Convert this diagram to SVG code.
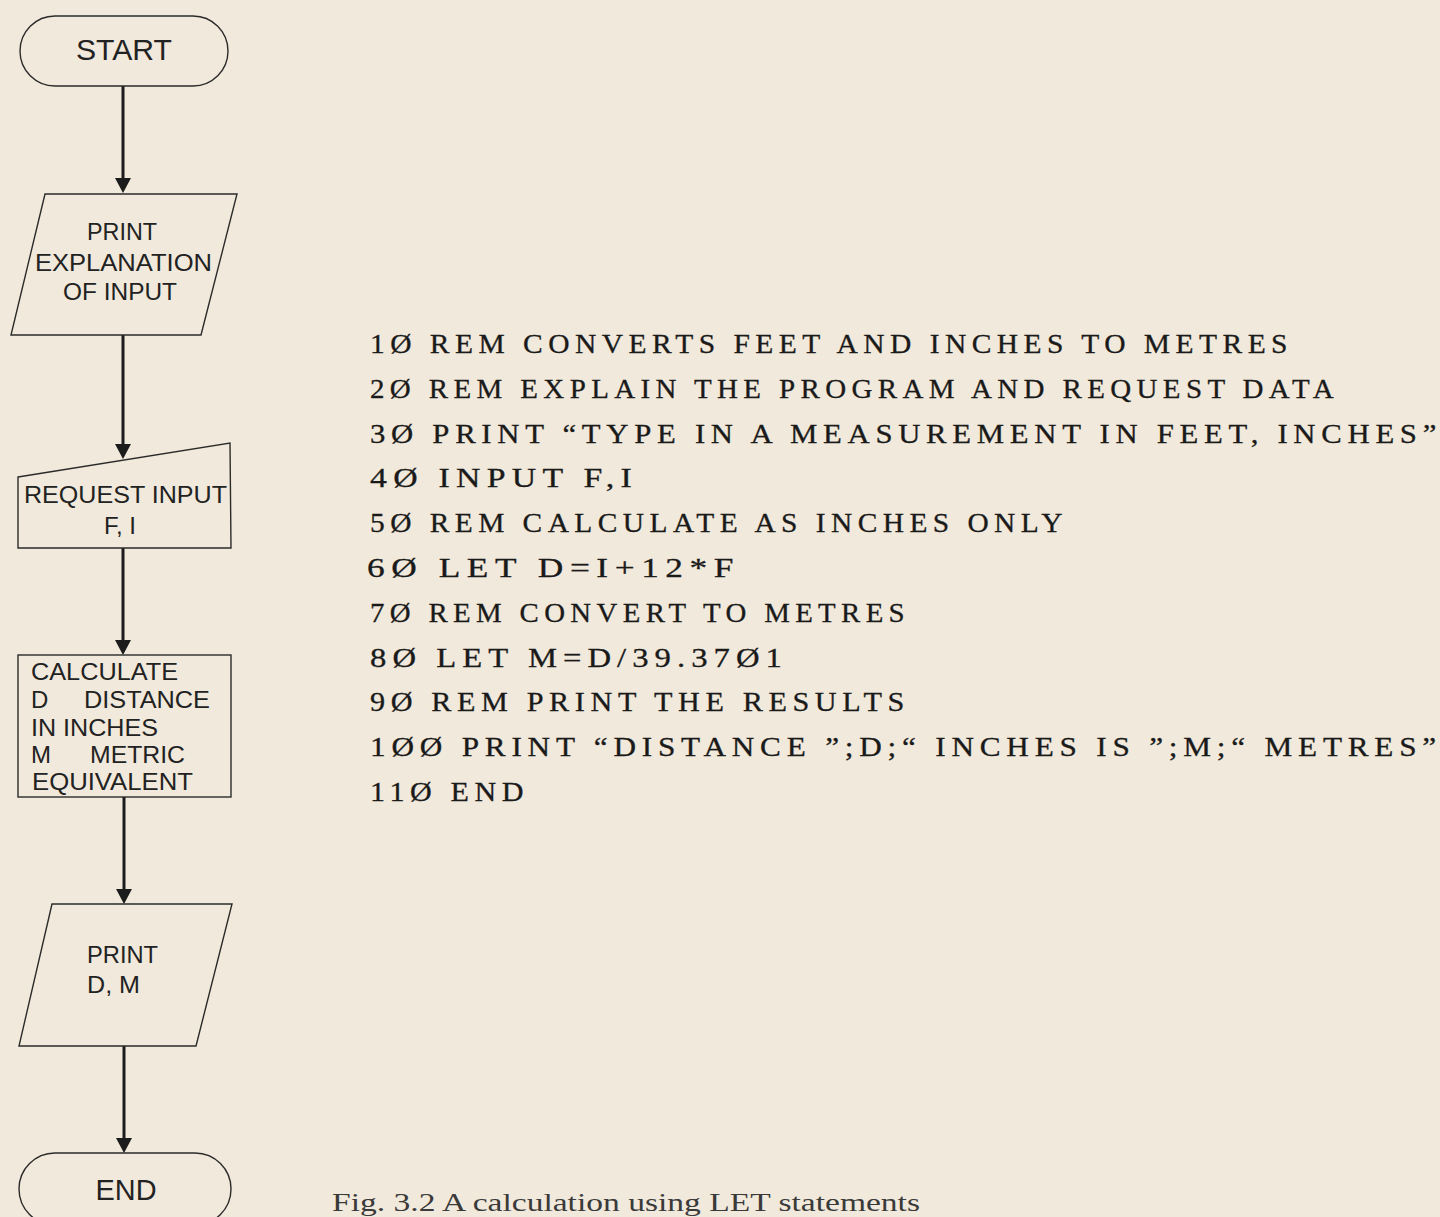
<svg xmlns="http://www.w3.org/2000/svg" width="1440" height="1217" viewBox="0 0 1440 1217">
<defs>
<style>
.bg{fill:#F1E9DB}
.shape{fill:none;stroke:#2b2b2b;stroke-width:1.4}
.conn{stroke:#1c1c1c;stroke-width:3;fill:none}
.fc{font-family:"Liberation Sans",Arial,sans-serif;fill:#222;font-size:24px}
.mid{text-anchor:middle}
.code{font-family:"Liberation Serif","Times New Roman",serif;fill:#1a1a1a;font-size:27px;letter-spacing:5px;stroke:#1a1a1a;stroke-width:0.3}
.cap{font-family:"Liberation Serif","Times New Roman",serif;fill:#3a3a3a;font-size:26px}
</style>
</defs>
<rect class="bg" x="0" y="0" width="1440" height="1217"/>

<g id="connectors">
<line class="conn" x1="123" y1="86" x2="123" y2="178"/>
<path d="M115,178 L131,178 L123,193 Z" fill="#1c1c1c"/>
<line class="conn" x1="123" y1="335" x2="123" y2="444"/>
<path d="M115,444 L131,444 L123,459 Z" fill="#1c1c1c"/>
<line class="conn" x1="123" y1="548" x2="123" y2="640"/>
<path d="M115,640 L131,640 L123,655 Z" fill="#1c1c1c"/>
<line class="conn" x1="124" y1="797" x2="124" y2="889"/>
<path d="M116,889 L132,889 L124,904 Z" fill="#1c1c1c"/>
<line class="conn" x1="124" y1="1046" x2="124" y2="1138"/>
<path d="M116,1138 L132,1138 L124,1153 Z" fill="#1c1c1c"/>
</g>

<g id="start">
<rect class="shape" x="20" y="16" width="208" height="70" rx="35" ry="35"/>
<text class="fc mid" x="124" y="60" style="font-size:30px" textLength="96" lengthAdjust="spacingAndGlyphs">START</text>
</g>

<g id="print-explanation">
<polygon class="shape" points="45,194 237,194 201,335 11,335"/>
<text class="fc mid" x="122" y="240" textLength="70" lengthAdjust="spacingAndGlyphs">PRINT</text>
<text class="fc mid" x="123.5" y="271" textLength="177" lengthAdjust="spacingAndGlyphs">EXPLANATION</text>
<text class="fc mid" x="120" y="300" textLength="114" lengthAdjust="spacingAndGlyphs">OF INPUT</text>
</g>

<g id="request-input">
<polygon class="shape" points="18,477 230,443 231,548 18,548"/>
<text class="fc mid" x="125.5" y="503" textLength="203" lengthAdjust="spacingAndGlyphs">REQUEST INPUT</text>
<text class="fc mid" x="120" y="534">F, I</text>
</g>

<g id="calculate">
<rect class="shape" x="18" y="655" width="213" height="142"/>
<text class="fc" x="31" y="680" textLength="147" lengthAdjust="spacingAndGlyphs">CALCULATE</text>
<text class="fc" x="31" y="708">D</text>
<text class="fc" x="84" y="708" textLength="126" lengthAdjust="spacingAndGlyphs">DISTANCE</text>
<text class="fc" x="31" y="736" textLength="127" lengthAdjust="spacingAndGlyphs">IN INCHES</text>
<text class="fc" x="31" y="763">M</text>
<text class="fc" x="90" y="763" textLength="95" lengthAdjust="spacingAndGlyphs">METRIC</text>
<text class="fc" x="32" y="790" textLength="161" lengthAdjust="spacingAndGlyphs">EQUIVALENT</text>
</g>

<g id="print-dm">
<polygon class="shape" points="52,904 232,904 196,1046 19,1046"/>
<text class="fc" x="87" y="963" textLength="71" lengthAdjust="spacingAndGlyphs">PRINT</text>
<text class="fc" x="87" y="993" textLength="53" lengthAdjust="spacingAndGlyphs">D, M</text>
</g>

<g id="end">
<rect class="shape" x="19" y="1153" width="212" height="72" rx="36" ry="36"/>
<text class="fc mid" x="126" y="1200" style="font-size:30px" textLength="61" lengthAdjust="spacingAndGlyphs">END</text>
</g>

<g id="program">
<text class="code" x="370" y="353" textLength="923" lengthAdjust="spacingAndGlyphs">1Ø REM CONVERTS FEET AND INCHES TO METRES</text>
<text class="code" x="370" y="398" textLength="969" lengthAdjust="spacingAndGlyphs">2Ø REM EXPLAIN THE PROGRAM AND REQUEST DATA</text>
<text class="code" x="370" y="443" textLength="1072" lengthAdjust="spacingAndGlyphs">3Ø PRINT “TYPE IN A MEASUREMENT IN FEET, INCHES”</text>
<text class="code" x="370" y="487" textLength="268" lengthAdjust="spacingAndGlyphs">4Ø INPUT F,I</text>
<text class="code" x="370" y="532" textLength="698" lengthAdjust="spacingAndGlyphs">5Ø REM CALCULATE AS INCHES ONLY</text>
<text class="code" x="367" y="577" textLength="373" lengthAdjust="spacingAndGlyphs">6Ø LET D=I+12*F</text>
<text class="code" x="370" y="622" textLength="540" lengthAdjust="spacingAndGlyphs">7Ø REM CONVERT TO METRES</text>
<text class="code" x="370" y="667" textLength="418" lengthAdjust="spacingAndGlyphs">8Ø LET M=D/39.37Ø1</text>
<text class="code" x="370" y="711" textLength="540" lengthAdjust="spacingAndGlyphs">9Ø REM PRINT THE RESULTS</text>
<text class="code" x="370" y="756" textLength="1072" lengthAdjust="spacingAndGlyphs">1ØØ PRINT “DISTANCE ”;D;“ INCHES IS ”;M;“ METRES”</text>
<text class="code" x="370" y="801" textLength="159" lengthAdjust="spacingAndGlyphs">11Ø END</text>
</g>

<text class="cap" x="332" y="1211" textLength="588" lengthAdjust="spacingAndGlyphs">Fig. 3.2  A calculation using LET statements</text>
</svg>
